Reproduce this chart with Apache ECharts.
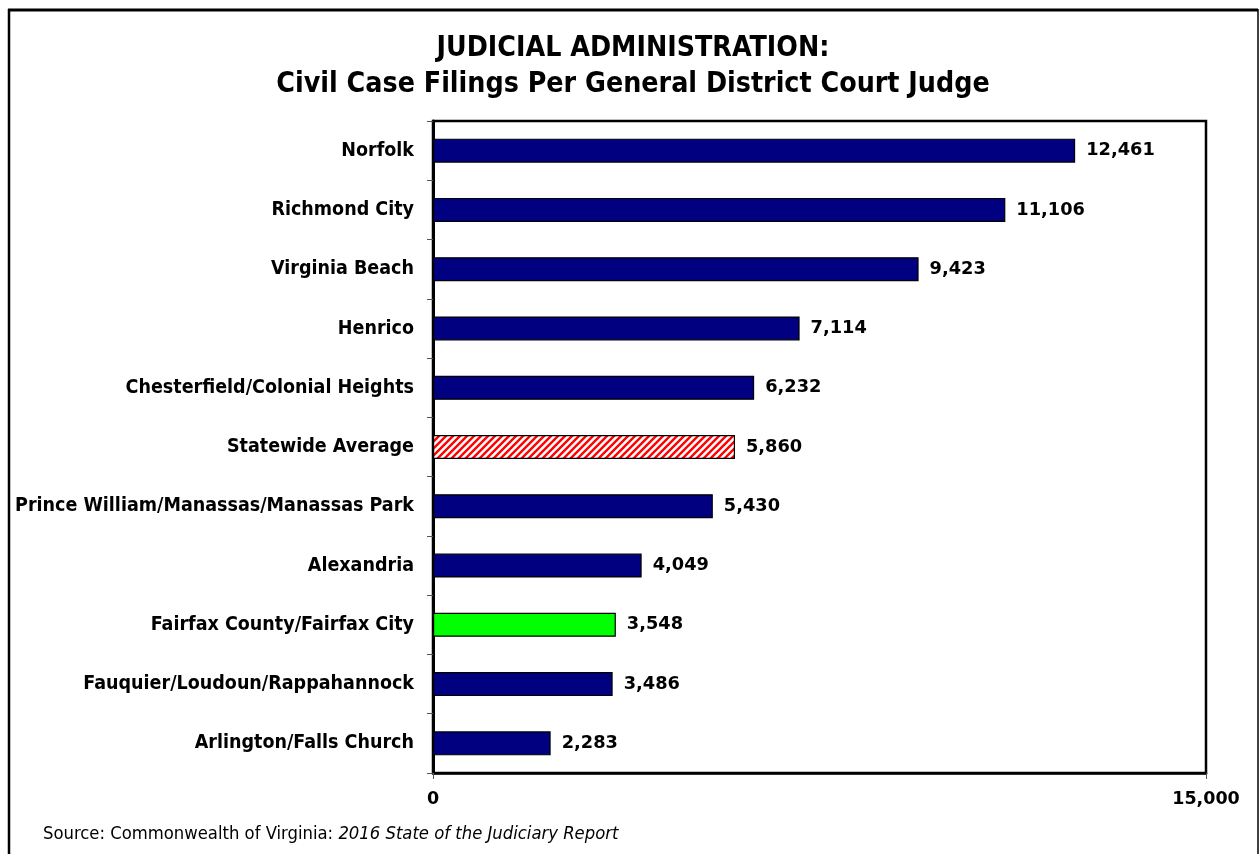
<!DOCTYPE html>
<html>
<head>
<meta charset="utf-8">
<script src="https://cdn.jsdelivr.net/npm/echarts@6/dist/echarts.min.js"></script>
<style>
html,body{margin:0;padding:0;background:#fff;}
#chart{width:1259px;height:854px;}
</style>
</head>
<body>
<div id="chart"></div>
<script>
var categories = ["Norfolk","Richmond City","Virginia Beach","Henrico","Chesterfield/Colonial Heights","Statewide Average","Prince William/Manassas/Manassas Park","Alexandria","Fairfax County/Fairfax City","Fauquier/Loudoun/Rappahannock","Arlington/Falls Church"];
var values = [12461,11106,9423,7114,6232,5860,5430,4049,3548,3486,2283];
var xTicks = [0, 15000];

var condFont = '"DejaVu Sans Condensed",sans-serif';
var valFont = '"DejaVu Sans",sans-serif';

// hatch pattern for statewide average
var pc = document.createElement('canvas');
pc.width = 7; pc.height = 7;
var g = pc.getContext('2d');
g.fillStyle = '#fff'; g.fillRect(0,0,7,7);
g.strokeStyle = '#ff0000'; g.lineWidth = 2.4;
g.beginPath();
g.moveTo(-2,9); g.lineTo(9,-2);
g.moveTo(-5.5,5.5); g.lineTo(5.5,-5.5);
g.moveTo(1.5,12.5); g.lineTo(12.5,1.5);
g.stroke();

var barData = values.map(function(v, i){
  var c = '#000080';
  if (categories[i] === 'Statewide Average') c = {image: pc, repeat: 'repeat'};
  if (categories[i] === 'Fairfax County/Fairfax City') c = '#00ff00';
  return {value: v, itemStyle: {color: c}};
});

var chart = echarts.init(document.getElementById('chart'));
chart.setOption({
  animation: false,
  backgroundColor: '#fff',
  title: [{
    text: 'JUDICIAL ADMINISTRATION:\nCivil Case Filings Per General District Court Judge',
    left: 628, textAlign: 'center', top: 26,
    textStyle: {fontFamily: condFont, fontWeight: 'bold', fontSize: 28.3, lineHeight: 36, color: '#000'}
  },{
    text: 'Source: Commonwealth of Virginia: {i|2016 State of the Judiciary Report}',
    left: 38, top: 820,
    textStyle: {fontFamily: condFont, fontSize: 18.3, color: '#000', fontWeight: 'normal',
      rich: {i: {fontFamily: condFont, fontSize: 18.3, fontStyle: 'italic', color: '#000'}}}
  }],
  grid: {left: 433, right: 53, top: 121, bottom: 81, show: true, borderColor: '#000', borderWidth: 2.5, containLabel: false},
  xAxis: {
    type: 'value', min: xTicks[0], max: xTicks[1], interval: 15000,
    splitLine: {show: false},
    axisLine: {show: true, lineStyle: {color: '#000', width: 2.5}},
    axisTick: {show: true, length: 6, lineStyle: {color: '#555', width: 1}},
    axisLabel: {margin: 17, fontFamily: valFont, fontWeight: 'bold', fontSize: 17.5, color: '#000',
      formatter: function(v){ return v.toLocaleString('en-US'); }}
  },
  yAxis: {
    type: 'category', data: categories, inverse: true,
    axisLine: {show: true, lineStyle: {color: '#000', width: 3}},
    axisTick: {show: true, length: 6, lineStyle: {color: '#555', width: 1}},
    axisLabel: {margin: 19, fontFamily: condFont, fontWeight: 'bold', fontSize: 19.5, color: '#000'}
  },
  series: [{
    type: 'bar', data: barData, barWidth: 24,
    itemStyle: {borderColor: '#000', borderWidth: 1.2},
    label: {show: true, position: 'right', distance: 11, fontFamily: valFont, fontWeight: 'bold', fontSize: 17.8, color: '#000',
      formatter: function(p){ return p.value.toLocaleString('en-US'); }}
  }],
  graphic: [
    {type: 'line', shape: {x1: 8, y1: 10, x2: 1258, y2: 10}, style: {stroke: '#000', lineWidth: 3}, z: 100},
    {type: 'line', shape: {x1: 9, y1: 9, x2: 9, y2: 854}, style: {stroke: '#000', lineWidth: 2.5}, z: 100},
    {type: 'line', shape: {x1: 1258, y1: 9, x2: 1258, y2: 854}, style: {stroke: '#000', lineWidth: 1.5}, z: 100}
  ]
});
</script>
</body>
</html>
